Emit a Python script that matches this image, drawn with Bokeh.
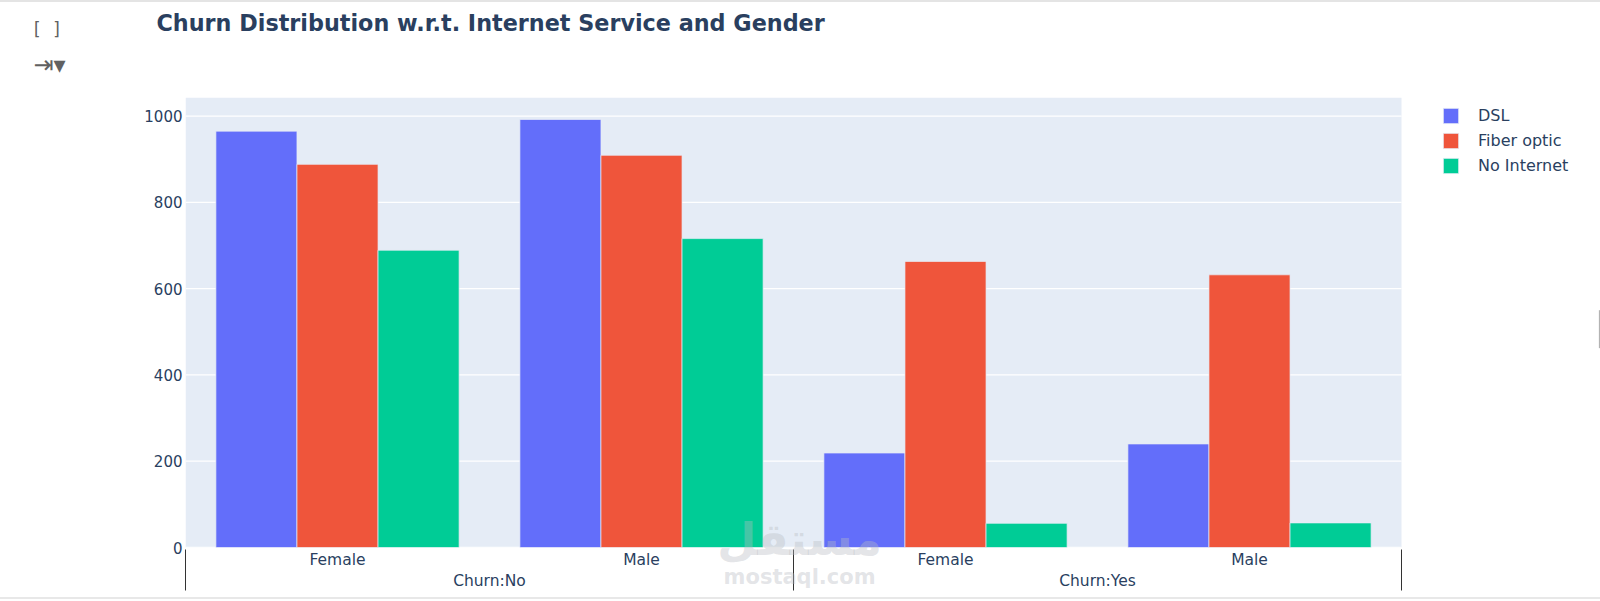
from bokeh.plotting import figure
from bokeh.models import (ColumnDataSource, Range1d, Legend, LegendItem, Label,
                          FixedTicker, NumeralTickFormatter, LinearAxis)
from bokeh.transform import dodge
from bokeh.embed import file_html
from bokeh.resources import INLINE

churn_groups = ["Churn:No", "Churn:Yes"]
genders = ["Female", "Male", "Female", "Male"]
dsl = [965, 992, 219, 240]
fiber = [888, 909, 663, 632]
no_internet = [689, 716, 56, 57]
y_ticks = [0, 200, 400, 600, 800, 1000]
title_text = "Churn Distribution w.r.t. Internet Service and Gender"

INK = "#2a3f5f"
GREY = "#616161"
PANEL_BG = "#e5ecf6"
n = len(genders)
y_top = 1043
x_pos = [i + 0.5 for i in range(n)]
group_pos = [1, 3]
source = ColumnDataSource(dict(x=x_pos, dsl=dsl, fiber=fiber, none=no_internet))

# The frame runs on to the page's right edge so the legend (inside it) is not clipped;
# the visible plot area is x 0..4 of it, painted below.
frame_w, plot_w = 1415, 1216
p = figure(width=1600, height=599, output_backend="svg", toolbar_location=None,
           x_range=Range1d(0, n * frame_w / plot_w), y_range=Range1d(0, y_top),
           x_axis_type=None,
           min_border_left=185, min_border_right=0, min_border_top=95, min_border_bottom=54,
           background_fill_color=None, outline_line_color=None)
p.styles = {"border-top": "2px solid #e4e4e4", "border-bottom": "2px solid #e8e8e8"}

p.quad(left=[0], right=[n], bottom=[0], top=[y_top], fill_color=PANEL_BG, line_color=None, level="image")
p.segment(x0=[0] * len(y_ticks), x1=[n] * len(y_ticks), y0=y_ticks, y1=y_ticks,
          line_color="white", line_width=1.3, level="underlay")


def bottom_axis(ticks, labels, standoff, size="15.5px", color=INK, alpha=1.0, style="normal"):
    ax = LinearAxis(ticker=FixedTicker(ticks=ticks),
                    axis_line_color=None, major_tick_line_color=None, minor_tick_line_color=None,
                    major_tick_in=0, major_tick_out=0,
                    major_label_overrides=dict(zip(ticks, labels)), major_label_standoff=standoff,
                    major_label_text_font="DejaVu Sans", major_label_text_font_size=size,
                    major_label_text_font_style=style, major_label_text_color=color,
                    major_label_text_alpha=alpha)
    p.add_layout(ax, "below")


bottom_axis(x_pos, genders, 3)
bottom_axis(group_pos, churn_groups, 0)

# multi-category dividers: ticks reach back up towards the frame
divider_ticks = [0, 2, 4]
dividers = LinearAxis(ticker=FixedTicker(ticks=divider_ticks),
                      axis_line_color=None, minor_tick_line_color=None,
                      major_tick_line_color="#333333", major_tick_line_width=1,
                      major_tick_in=43, major_tick_out=-2,
                      major_label_overrides={t: "" for t in divider_ticks},
                      major_label_text_font_size="1px", major_label_standoff=0)
p.add_layout(dividers, "below")

# watermark, pulled back over the chart
bottom_axis([2.02], ["mostaql.com"], -28, size="21px", color="#b8bcc2", alpha=0.4, style="bold")
bottom_axis([2.02], ["مستقل"], -80, size="45px", color="#b8bcc2", alpha=0.4, style="bold")

yaxis = p.yaxis[0]
yaxis.ticker = FixedTicker(ticks=y_ticks)
yaxis.formatter = NumeralTickFormatter(format="0")
yaxis.major_tick_line_color = None
yaxis.minor_tick_line_color = None
yaxis.axis_line_color = None
yaxis.major_label_text_font = "DejaVu Sans"
yaxis.major_label_text_font_size = "15px"
yaxis.major_label_text_color = INK
yaxis.major_label_standoff = -3

p.xgrid.grid_line_color = None
p.ygrid.grid_line_color = None

w = 0.8 / 3
series = [("dsl", "DSL", "#636efa", -w), ("fiber", "Fiber optic", "#ef553b", 0), ("none", "No Internet", "#00cc96", w)]
items = []
for col, name, color, off in series:
    r = p.vbar(x=dodge("x", off), top=col, width=w, bottom=0, source=source,
               fill_color=color, line_color="#e8ecf6", line_width=0.7)
    items.append(LegendItem(label=name, renderers=[r]))

legend = Legend(items=items, location=(1256, 372), orientation="vertical",
                glyph_width=19, glyph_height=19, spacing=6, padding=0, margin=0,
                label_standoff=18, label_text_font="DejaVu Sans", label_text_font_size="16px",
                label_text_color=INK, label_height=15,
                border_line_color=None, background_fill_alpha=0)
p.add_layout(legend, "center")

# title and notebook cell chrome, placed on the canvas
p.add_layout(Label(x=156, y=18, x_units="canvas", y_units="canvas", text=title_text, text_baseline="middle",
                   text_font="DejaVu Sans", text_font_size="22.3px", text_font_style="bold",
                   text_color=INK), "above")
p.add_layout(Label(x=31, y=24, x_units="canvas", y_units="canvas", text="[ ]", text_baseline="middle",
                   text_font="DejaVu Sans Mono", text_font_size="17px", text_color=GREY), "left")
p.add_layout(Label(x=33, y=60, x_units="canvas", y_units="canvas", text="⇥▾", text_baseline="middle",
                   text_font="DejaVu Sans", text_font_size="24px", text_color=GREY), "left")

# faint page scrollbar sliver at the right edge
p.segment(x0=[4.651], x1=[4.651], y0=[462], y1=[550], line_color="#aaaaaa", line_width=1)

open("out.html", "w").write(file_html(p, INLINE))
